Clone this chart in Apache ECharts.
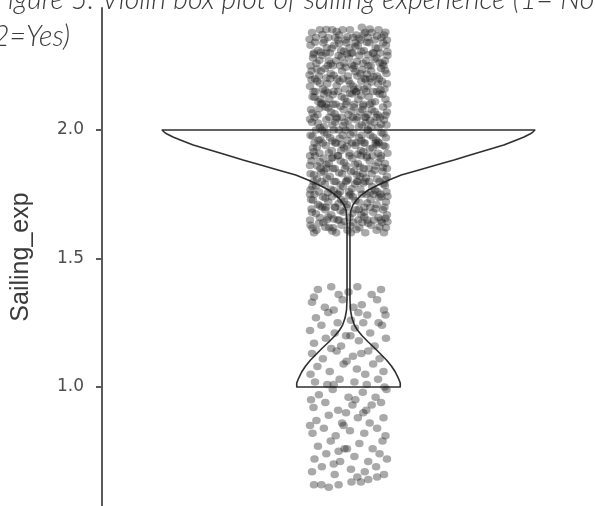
<!DOCTYPE html>
<html>
<head>
<meta charset="utf-8">
<script src="https://cdn.jsdelivr.net/npm/echarts@6/dist/echarts.min.js"></script>
<style>
  html, body { margin: 0; padding: 0; background: #fff; }
  #chart { width: 595px; height: 506px; }
</style>
</head>
<body>
<div id="chart"></div>
<script>
// Sailing experience coded 1 = No, 2 = Yes, shown as a violin with jittered observations.
const chartTitle = 'Figure 5: Violin box plot of sailing experience (1= No\n2=Yes)';
const yAxisName = 'Sailing_exp';
const yTickValues = [1.0, 1.5, 2.0];

// Violin outline: value on the y axis and half-width (x units) of the density at that value.
const violinY = [2.0000, 1.9922, 1.9844, 1.9728, 1.9611, 1.9416, 1.9222, 1.9027, 1.8833, 1.8638,
                 1.8444, 1.8249, 1.8054, 1.7860, 1.7665, 1.7471, 1.7276, 1.7082, 1.6887, 1.6693, 1.6304,
                 1.3385, 1.2996, 1.2685, 1.2412, 1.2218, 1.1984, 1.1751, 1.1518, 1.1284, 1.1051,
                 1.0817, 1.0584, 1.0350, 1.0156, 1.0000];
const violinHalf = [0.378, 0.374, 0.368, 0.356, 0.341, 0.315, 0.281, 0.247, 0.214, 0.178,
                    0.143, 0.107, 0.082, 0.060, 0.040, 0.026, 0.016, 0.009, 0.005, 0.004, 0.003,
                    0.003, 0.004, 0.007, 0.012, 0.018, 0.028, 0.040, 0.053, 0.065, 0.077,
                    0.087, 0.095, 0.101, 0.105, 0.105];

// Jittered observations: [horizontal jitter, jittered value], answers "Yes" (2).
const sailingYes = [
  [-0.074,2.38],[-0.058,2.39],[-0.041,2.36],[-0.033,2.39],[-0.019,2.37],[-0.006,2.35],[0.003,2.39],[0.016,2.37],[0.027,2.40],[0.039,2.36],[0.047,2.38],[0.061,2.39],[0.072,2.37],[0.078,2.35],[-0.066,2.36],[-0.049,2.35],[0.009,2.36],[0.053,2.35],[0.034,2.38],[-0.012,2.39],[0.067,2.36],[-0.027,2.36],
  [-0.053,2.372],[-0.024,2.384],[0.021,2.357],[0.043,2.393],[0.075,2.381],[-0.079,2.353],[0.058,2.366],[-0.002,2.363],[0.031,2.374],[-0.045,2.391],
  [-0.077,2.33],[-0.062,2.31],[-0.051,2.34],[-0.038,2.30],[-0.029,2.33],[-0.015,2.31],[-0.004,2.34],[0.008,2.30],[0.019,2.33],[0.031,2.31],[0.042,2.34],[0.055,2.32],[0.064,2.30],[0.076,2.33],[-0.070,2.30],[-0.044,2.32],[-0.021,2.35],[0.002,2.32],[0.025,2.35],[0.049,2.30],[0.070,2.34],[0.014,2.34],
  [-0.068,2.342],[-0.034,2.318],[-0.009,2.307],[0.014,2.325],[0.037,2.342],[0.060,2.318],[0.079,2.305],[-0.056,2.303],[0.026,2.306],[-0.019,2.337],
  [-0.072,2.28],[-0.065,2.26],[-0.053,2.29],[-0.040,2.27],[-0.032,2.25],[-0.020,2.29],[-0.009,2.26],[0.001,2.28],[0.012,2.25],[0.022,2.29],[0.036,2.27],[0.045,2.25],[0.057,2.28],[0.069,2.26],[0.079,2.29],[-0.077,2.25],[-0.046,2.30],[-0.025,2.27],[0.006,2.30],[0.029,2.26],[0.051,2.30],[0.074,2.27],
  [-0.059,2.272],[-0.036,2.258],[-0.014,2.284],[0.017,2.267],[0.040,2.293],[0.063,2.262],[-0.071,2.294],[0.007,2.253],[0.053,2.276],[-0.003,2.296],
  [-0.075,2.23],[-0.060,2.21],[-0.048,2.24],[-0.036,2.22],[-0.023,2.20],[-0.013,2.23],[-0.001,2.21],[0.010,2.24],[0.024,2.22],[0.033,2.20],[0.046,2.23],[0.058,2.21],[0.066,2.24],[0.077,2.22],[-0.068,2.20],[-0.042,2.25],[-0.017,2.25],[0.018,2.21],[0.040,2.25],[0.062,2.20],[0.071,2.25],[-0.056,2.23],
  [-0.064,2.238],[-0.030,2.213],[-0.006,2.244],[0.028,2.236],[0.051,2.207],[0.074,2.233],[-0.045,2.203],[0.014,2.227],[-0.079,2.214],[0.037,2.218],
  [-0.078,2.17],[-0.064,2.19],[-0.052,2.16],[-0.043,2.18],[-0.030,2.15],[-0.018,2.19],[-0.007,2.16],[0.004,2.18],[0.015,2.15],[0.026,2.19],[0.038,2.17],[0.050,2.15],[0.060,2.18],[0.073,2.16],[-0.071,2.15],[-0.037,2.20],[-0.011,2.20],[0.009,2.17],[0.032,2.16],[0.044,2.20],[0.068,2.19],[0.078,2.18],
  [-0.058,2.182],[-0.024,2.173],[0.000,2.192],[0.020,2.163],[0.047,2.187],[0.065,2.156],[-0.075,2.196],[-0.047,2.153],[0.035,2.198],[0.011,2.157],
  [-0.073,2.13],[-0.061,2.11],[-0.050,2.14],[-0.039,2.12],[-0.026,2.10],[-0.014,2.13],[-0.003,2.11],[0.007,2.14],[0.020,2.12],[0.030,2.10],[0.041,2.13],[0.054,2.11],[0.063,2.14],[0.075,2.12],[-0.067,2.15],[-0.045,2.10],[-0.021,2.15],[0.012,2.10],[0.036,2.15],[0.058,2.15],[0.079,2.10],[-0.057,2.12],
  [-0.069,2.128],[-0.032,2.137],[-0.008,2.124],[0.016,2.148],[0.047,2.106],[0.069,2.138],[-0.054,2.104],[0.026,2.134],[0.003,2.143],[-0.042,2.146],
  [-0.076,2.08],[-0.063,2.06],[-0.047,2.09],[-0.035,2.07],[-0.024,2.05],[-0.010,2.08],[0.000,2.06],[0.011,2.09],[0.023,2.07],[0.035,2.05],[0.047,2.08],[0.059,2.06],[0.070,2.09],[0.078,2.07],[-0.069,2.05],[-0.055,2.10],[-0.031,2.10],[-0.005,2.10],[0.017,2.05],[0.043,2.10],[0.064,2.05],[0.028,2.08],
  [-0.059,2.084],[-0.028,2.063],[-0.016,2.092],[0.006,2.074],[0.030,2.094],[0.053,2.072],[0.075,2.058],[-0.073,2.066],[0.039,2.062],[-0.041,2.086],
  [-0.074,2.03],[-0.058,2.01],[-0.045,2.04],[-0.033,2.02],[-0.020,2.00],[-0.008,2.03],[0.003,2.01],[0.016,2.04],[0.027,2.02],[0.039,2.00],[0.052,2.03],[0.061,2.01],[0.072,2.04],[-0.066,2.00],[-0.039,2.05],[-0.014,2.05],[0.009,2.05],[0.033,2.05],[0.057,2.05],[0.077,2.02],[0.046,2.01],[-0.027,2.03],
  [-0.062,2.027],[-0.050,2.013],[-0.024,2.044],[0.000,2.036],[0.021,2.013],[0.044,2.037],[0.066,2.023],[-0.078,2.042],[-0.011,2.017],[0.035,2.028],
  [-0.077,1.98],[-0.061,1.96],[-0.049,1.99],[-0.037,1.97],[-0.025,1.95],[-0.012,1.98],[-0.002,1.96],[0.010,1.99],[0.021,1.97],[0.033,1.95],[0.044,1.98],[0.056,1.96],[0.067,1.99],[0.076,1.97],[-0.069,1.95],[-0.054,2.00],[-0.030,2.00],[-0.006,2.00],[0.015,1.95],[0.039,2.00],[0.062,1.95],[0.027,1.98],
  [-0.073,1.976],[-0.043,1.984],[-0.018,1.968],[0.004,1.982],[0.026,1.958],[0.050,1.972],[0.071,1.986],[-0.057,1.962],[0.060,1.954],[-0.033,1.957],
  [-0.072,1.93],[-0.059,1.91],[-0.046,1.94],[-0.034,1.92],[-0.021,1.90],[-0.009,1.93],[0.002,1.91],[0.014,1.94],[0.025,1.92],[0.037,1.90],[0.049,1.93],[0.060,1.91],[0.071,1.94],[0.079,1.91],[-0.078,1.90],[-0.052,1.95],[-0.027,1.95],[0.007,1.95],[0.031,1.95],[0.055,1.95],[0.066,1.90],[-0.015,1.92],
  [-0.064,1.934],[-0.040,1.912],[-0.014,1.944],[0.019,1.906],[0.043,1.927],[0.075,1.936],[-0.003,1.937],[0.030,1.916],[-0.071,1.916],[0.057,1.942],
  [-0.075,1.88],[-0.063,1.86],[-0.051,1.89],[-0.040,1.87],[-0.028,1.85],[-0.016,1.88],[-0.004,1.86],[0.008,1.89],[0.019,1.87],[0.031,1.85],[0.043,1.88],[0.055,1.86],[0.065,1.89],[0.074,1.87],[-0.068,1.90],[-0.045,1.85],[-0.022,1.90],[0.002,1.90],[0.025,1.90],[0.049,1.90],[0.078,1.85],[-0.034,1.89],
  [-0.058,1.877],[-0.032,1.893],[-0.009,1.874],[0.013,1.866],[0.037,1.893],[0.060,1.874],[-0.078,1.862],[0.070,1.854],[0.024,1.856],[-0.045,1.866],
  [-0.077,1.83],[-0.064,1.81],[-0.050,1.84],[-0.038,1.82],[-0.026,1.80],[-0.013,1.83],[-0.001,1.81],[0.011,1.84],[0.023,1.82],[0.034,1.80],[0.047,1.83],[0.058,1.81],[0.069,1.84],[0.078,1.82],[-0.071,1.80],[-0.057,1.85],[-0.032,1.85],[-0.007,1.85],[0.017,1.80],[0.041,1.85],[0.063,1.80],[0.029,1.83],
  [-0.070,1.826],[-0.044,1.812],[-0.019,1.834],[0.005,1.838],[0.035,1.813],[0.053,1.844],[0.075,1.807],[-0.055,1.835],[0.017,1.826],[-0.003,1.804],
  [-0.073,1.78],[-0.060,1.76],[-0.048,1.79],[-0.036,1.77],[-0.023,1.75],[-0.011,1.78],[0.001,1.76],[0.013,1.79],[0.024,1.77],[0.036,1.75],[0.048,1.78],[0.059,1.76],[0.071,1.79],[0.077,1.76],[-0.078,1.75],[-0.054,1.80],[-0.029,1.80],[-0.005,1.80],[0.019,1.80],[0.042,1.80],[0.065,1.75],[-0.017,1.76],
  [-0.066,1.783],[-0.042,1.757],[-0.016,1.787],[0.007,1.772],[0.030,1.794],[0.054,1.766],[0.074,1.784],[-0.077,1.768],[0.043,1.756],[-0.030,1.766],
  [-0.076,1.73],[-0.062,1.71],[-0.052,1.74],[-0.041,1.72],[-0.027,1.70],[-0.015,1.73],[-0.003,1.71],[0.009,1.74],[0.021,1.72],[0.032,1.70],[0.045,1.73],[0.057,1.71],[0.067,1.74],[0.076,1.72],[-0.069,1.75],[-0.046,1.70],[-0.021,1.75],[0.004,1.75],[0.027,1.75],[0.051,1.75],[0.073,1.70],[-0.034,1.74],
  [-0.072,1.727],[-0.047,1.736],[-0.020,1.714],[0.014,1.726],[0.038,1.716],[0.062,1.738],[0.079,1.742],[-0.058,1.704],[0.001,1.744],[-0.009,1.722],
  [-0.074,1.68],[-0.058,1.66],[-0.047,1.69],[-0.035,1.67],[-0.022,1.65],[-0.010,1.68],[0.002,1.66],[0.015,1.69],[0.026,1.67],[0.038,1.65],[0.050,1.68],[0.061,1.66],[0.070,1.69],[0.078,1.67],[-0.078,1.65],[-0.053,1.70],[-0.028,1.70],[-0.004,1.70],[0.020,1.65],[0.044,1.70],[0.066,1.65],[0.032,1.68],
  [-0.066,1.674],[-0.041,1.662],[-0.016,1.686],[0.008,1.676],[0.032,1.662],[0.055,1.694],[0.075,1.657],[-0.075,1.693],[0.021,1.691],[-0.030,1.654],
  [-0.077,1.63],[-0.065,1.61],[-0.051,1.64],[-0.039,1.62],[-0.025,1.60],[-0.014,1.63],[-0.002,1.61],[0.010,1.64],[0.022,1.62],[0.034,1.60],[0.046,1.63],[0.057,1.61],[0.068,1.64],[0.076,1.62],[-0.070,1.60],[-0.044,1.65],[-0.019,1.65],[0.005,1.60],[0.028,1.64],[0.052,1.65],[0.072,1.60],[-0.031,1.62],
  [-0.060,1.637],[-0.033,1.607],[-0.008,1.644],[0.016,1.613],[0.040,1.637],[0.063,1.624],[0.079,1.643],[-0.073,1.619],[0.004,1.628],[-0.047,1.622]
];

// Jittered observations: answers "No" (1).
const sailingNo = [
  [-0.062,1.38],[-0.035,1.39],[0.018,1.39],[0.047,1.36],[-0.070,1.35],[0.000,1.37],[0.066,1.38],[-0.020,1.36],
  [-0.074,1.33],[-0.048,1.31],[-0.012,1.34],[0.027,1.32],[0.058,1.34],[0.072,1.30],[-0.030,1.30],[0.010,1.31],
  [-0.066,1.27],[-0.041,1.29],[0.005,1.26],[0.038,1.28],[0.061,1.25],[-0.022,1.25],[0.075,1.28],[0.020,1.29],
  [-0.078,1.22],[-0.055,1.24],[-0.028,1.21],[0.013,1.23],[0.044,1.21],[0.068,1.24],[-0.005,1.20],[0.030,1.25],
  [-0.070,1.17],[-0.046,1.19],[-0.015,1.16],[0.021,1.18],[0.053,1.16],[0.076,1.19],[-0.035,1.15],[0.004,1.20],
  [-0.074,1.13],[-0.052,1.11],[-0.024,1.14],[0.009,1.12],[0.040,1.14],[0.063,1.11],[-0.004,1.10],[0.026,1.13],
  [-0.063,1.08],[-0.038,1.06],[-0.010,1.09],[0.017,1.07],[0.050,1.09],[0.071,1.06],[-0.077,1.05],[0.034,1.05],
  [-0.068,1.02],[-0.043,1.01],[-0.018,1.03],[0.012,1.02],[0.037,1.01],[0.060,1.03],[-0.030,1.01],[0.073,1.00],
  [-0.060,0.97],[-0.032,0.99],[0.000,0.96],[0.029,0.98],[0.055,0.96],[0.077,0.99],[-0.076,0.95],[0.014,0.95],
  [-0.071,0.92],[-0.047,0.94],[-0.021,0.91],[0.008,0.93],[0.036,0.91],[0.066,0.94],[-0.005,0.90],[0.047,0.93],
  [-0.065,0.87],[-0.040,0.89],[-0.013,0.86],[0.019,0.88],[0.043,0.86],[0.071,0.88],[-0.078,0.85],[0.030,0.90],
  [-0.073,0.82],[-0.050,0.84],[-0.026,0.81],[0.003,0.83],[0.032,0.82],[0.058,0.84],[0.075,0.81],[-0.010,0.85],
  [-0.062,0.77],[-0.036,0.79],[-0.008,0.76],[0.022,0.78],[0.049,0.76],[0.069,0.79],[-0.020,0.75],[-0.003,0.76],
  [-0.069,0.72],[-0.045,0.74],[-0.017,0.71],[0.012,0.73],[0.040,0.71],[0.063,0.74],[0.078,0.72],[-0.030,0.70],
  [-0.074,0.67],[-0.054,0.69],[-0.028,0.66],[0.005,0.68],[0.033,0.67],[0.056,0.69],[0.072,0.66],[0.018,0.65],
  [-0.070,0.62],[-0.055,0.62],[-0.020,0.62],[0.006,0.63],[0.025,0.63],[0.040,0.64],[0.058,0.65],[-0.040,0.61]
];

const groupCenter = 1;
const jitterPoints = sailingYes.concat(sailingNo).map(p => [groupCenter + p[0], p[1]]);

const chart = echarts.init(document.getElementById('chart'), null, { renderer: 'canvas' });

chart.setOption({
  animation: false,
  backgroundColor: '#ffffff',
  title: {
    text: chartTitle,
    left: -7,
    top: -19,
    padding: 0,
    textStyle: {
      fontFamily: 'Lato',
      fontStyle: 'italic',
      fontWeight: 300,
      fontSize: 28.5,
      lineHeight: 37,
      color: '#3a3a3a'
    }
  },
  grid: { left: 102, right: -2, top: 8, bottom: 0 },
  xAxis: {
    type: 'value',
    min: 0.5,
    max: 1.5,
    show: false
  },
  yAxis: {
    type: 'value',
    min: 0.537,
    max: 2.475,
    name: yAxisName,
    nameLocation: 'middle',
    nameGap: 68,
    nameRotate: 90,
    nameTextStyle: {
      fontFamily: 'Liberation Sans',
      fontSize: 25,
      color: '#3a3a3a'
    },
    axisLine: { show: true, lineStyle: { color: '#5a5a5a', width: 2 } },
    axisTick: {
      show: true,
      length: 6,
      customValues: yTickValues,
      lineStyle: { color: '#5a5a5a', width: 2 }
    },
    axisLabel: {
      customValues: yTickValues,
      margin: 18,
      fontFamily: 'DejaVu Sans',
      fontSize: 17,
      color: '#4d4d4d',
      formatter: v => v.toFixed(1)
    },
    splitLine: { show: false }
  },
  series: [
    {
      name: 'violin',
      type: 'custom',
      coordinateSystem: 'cartesian2d',
      data: [[groupCenter, 1.5]],
      z: 2,
      renderItem: function (params, api) {
        const pts = [];
        for (let i = 0; i < violinY.length; i++) {
          pts.push(api.coord([groupCenter + violinHalf[i], violinY[i]]));
        }
        for (let i = violinY.length - 1; i >= 0; i--) {
          pts.push(api.coord([groupCenter - violinHalf[i], violinY[i]]));
        }
        return {
          type: 'polygon',
          shape: { points: pts, smooth: 0 },
          style: { fill: 'rgba(255,255,255,0)', stroke: '#2f2f2f', lineWidth: 1.6, lineJoin: 'round' }
        };
      }
    },
    {
      name: 'observations',
      type: 'scatter',
      data: jitterPoints,
      z: 3,
      symbol: 'circle',
      symbolSize: [8.5, 7.5],
      itemStyle: { color: 'rgba(30,30,30,0.48)' }
    }
  ]
});
</script>
</body>
</html>
